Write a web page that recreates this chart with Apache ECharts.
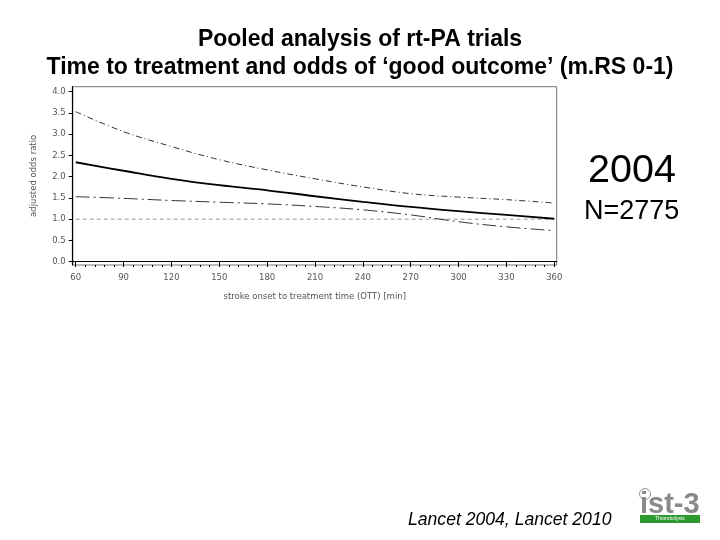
<!DOCTYPE html>
<html><head><meta charset="utf-8">
<script src="https://cdn.jsdelivr.net/npm/echarts@6/dist/echarts.min.js"></script>
<style>html,body{margin:0;padding:0;background:#fff}#c{width:720px;height:540px}</style>
</head><body><div id="c"></div>
<script>
var times = [60, 90, 120, 150, 180, 210, 240, 270, 300, 330, 360];
var oddsRatio = [2.34, 2.14, 1.95, 1.80, 1.68, 1.54, 1.41, 1.29, 1.19, 1.10, 1.01];
var upperCI = [3.53, 3.06, 2.71, 2.40, 2.16, 1.95, 1.76, 1.60, 1.52, 1.46, 1.38];
var lowerCI = [1.53, 1.49, 1.44, 1.40, 1.36, 1.30, 1.22, 1.10, 0.94, 0.82, 0.73];
var refLine = [1, 1];
var refX = [60, 360];
var xTicks = [60, 90, 120, 150, 180, 210, 240, 270, 300, 330, 360];
var xMinorTicks = [];
for (var t = 60; t <= 360; t += 6) xMinorTicks.push(t);
var yTicks = [0, 0.5, 1, 1.5, 2, 2.5, 3, 3.5, 4];

function pairs(xs, ys){ return xs.map(function(x,i){return [x, ys[i]];}); }

var chart = echarts.init(document.getElementById('c'), null, {renderer:'canvas'});
var lblStyle = {fontFamily:'DejaVu Sans', fontSize:8.5, color:'#555'};
chart.setOption({
  animation:false,
  backgroundColor:'#fff',
  title:{
    text:'Pooled analysis of rt-PA trials\nTime to treatment and odds of \u2018good outcome\u2019 (m.RS 0-1)',
    left:'center', top:21,
    textStyle:{fontFamily:'Liberation Sans', fontWeight:'bold', fontSize:23, lineHeight:28, color:'#000'}
  },
  grid:{left:72.7, right:163.3, top:86.7, bottom:275, show:true, borderColor:'#777', borderWidth:1, containLabel:false},
  xAxis:[{
    type:'value', min:58.1, max:361.5, position:'bottom',
    name:'stroke onset to treatment time (OTT) [min]', nameLocation:'middle', nameGap:27,
    nameTextStyle:{fontFamily:'DejaVu Sans', fontSize:8.5, color:'#555'},
    axisLine:{show:true, lineStyle:{color:'#000', width:1.2}},
    axisTick:{show:true, inside:false, length:4, lineStyle:{color:'#000'}, customValues:xTicks},
    axisLabel:Object.assign({customValues:xTicks, margin:8}, lblStyle),
    splitLine:{show:false}
  },{
    type:'value', min:58.1, max:361.5, position:'bottom',
    axisLine:{show:false},
    axisTick:{show:true, length:2, lineStyle:{color:'#000'}, customValues:xMinorTicks},
    axisLabel:{show:false}, splitLine:{show:false}
  }],
  yAxis:{
    type:'value', min:-0.078, max:4.118,
    name:'adjusted odds ratio', nameLocation:'middle', nameGap:34, nameRotate:90,
    nameTextStyle:{fontFamily:'DejaVu Sans', fontSize:8.5, color:'#555'},
    axisLine:{show:true, lineStyle:{color:'#000', width:1.2}},
    axisTick:{show:true, length:4, lineStyle:{color:'#000'}, customValues:yTicks},
    axisLabel:Object.assign({customValues:yTicks, margin:7, formatter:function(v){return v.toFixed(1);}}, lblStyle),
    splitLine:{show:false}
  },
  series:[
    {type:'line', name:'ref', data:pairs(refX, refLine), symbol:'none',
     lineStyle:{color:'#999', width:1, type:[4,3]}},
    {type:'line', name:'upper', data:pairs(times, upperCI), smooth:0.4, symbol:'none',
     lineStyle:{color:'#333', width:1, type:[6,3,1,3]}},
    {type:'line', name:'lower', data:pairs(times, lowerCI), smooth:0.4, symbol:'none',
     lineStyle:{color:'#333', width:1, type:[14,4,2,4]}},
    {type:'line', name:'OR', data:pairs(times, oddsRatio), smooth:0.4, symbol:'none',
     lineStyle:{color:'#000', width:1.8}}
  ],
  graphic:[
    {type:'text', left:588, top:151, style:{text:'2004', fontFamily:'Liberation Sans', fontSize:39.5, fill:'#000'}},
    {type:'text', left:584, top:198, style:{text:'N=2775', fontFamily:'Liberation Sans', fontSize:27, fill:'#000'}},
    {type:'text', left:408, top:511, style:{text:'Lancet 2004, Lancet 2010', fontFamily:'Liberation Sans', fontStyle:'italic', fontSize:17.6, fill:'#000'}},
    {type:'group', left:639, top:488, children:[
      {type:'circle', shape:{cx:6, cy:6, r:5.5}, style:{fill:'#fff', stroke:'#999', lineWidth:1}},
      {type:'text', x:1, y:2, style:{text:'ist-3', fontFamily:'Liberation Sans', fontWeight:'bold', fontSize:29, fill:'#8a8a8a'}},
      {type:'rect', shape:{x:1, y:27, width:60, height:8}, style:{fill:'#2e9a2e'}},
      {type:'text', x:16, y:28.5, style:{text:'Thrombolysis', fontFamily:'Liberation Sans', fontSize:5, fill:'#fff'}}
    ]}
  ]
});
</script></body></html>
